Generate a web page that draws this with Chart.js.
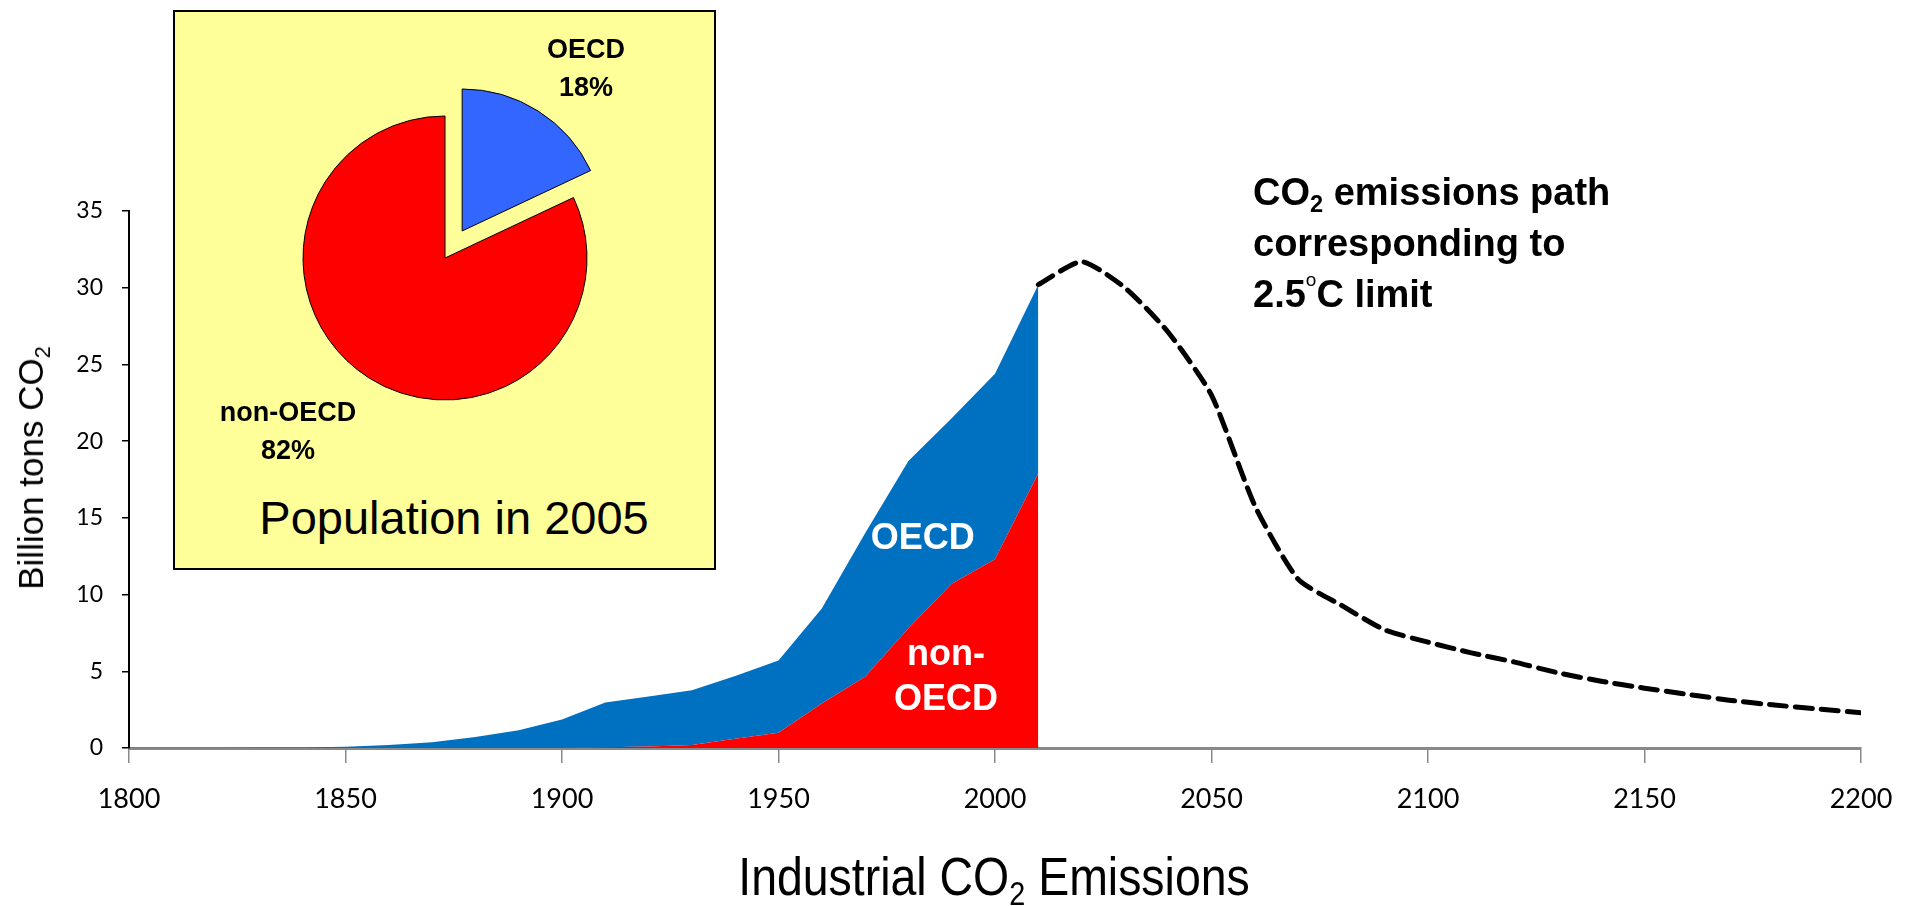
<!DOCTYPE html>
<html>
<head>
<meta charset="utf-8">
<script src="https://cdn.jsdelivr.net/npm/chart.js@4.4.1/dist/chart.umd.min.js"></script>
<style>
  body { margin: 0; background: #fff; }
  #wrap { position: relative; width: 1913px; height: 906px; overflow: hidden; font-family: "Liberation Sans", Arial, sans-serif; }
  #mainChart { position: absolute; left: 0; top: 0; }
  #popBox { position: absolute; left: 173px; top: 10px; width: 539px; height: 556px; background: #ffff99; border: 2px solid #000; }
  #pieChart { position: absolute; left: 275px; top: 88px; }
  .txt { position: absolute; white-space: nowrap; color: #000; }
  sub, sup { font-size: 0.62em; line-height: 0; }
  sub { vertical-align: -0.3em; }
  sup { vertical-align: 1.1em; font-size: 0.5em; font-weight: normal; }
</style>
</head>
<body>
<div id="wrap">
  <canvas id="mainChart" width="1913" height="906"></canvas>
  <div id="popBox"></div>
  <canvas id="pieChart" width="340" height="340"></canvas>

  <div class="txt" style="left:586px; top:30px; transform:translateX(-50%); font-weight:bold; font-size:27px; line-height:38px; text-align:center;">OECD<br>18%</div>
  <div class="txt" style="left:288px; top:393px; transform:translateX(-50%); font-weight:bold; font-size:27px; line-height:38px; text-align:center;">non-OECD<br>82%</div>
  <div class="txt" style="left:454px; top:490px; transform:translateX(-50%); font-size:47px; line-height:56px;">Population in 2005</div>

  <div class="txt" style="left:1253px; top:167px; font-weight:bold; font-size:38px; line-height:51px;">CO<sub>2</sub> emissions path<br>corresponding to<br>2.5<sup>o</sup>C limit</div>

  <div class="txt" style="left:31px; top:468px; transform:translate(-50%,-50%) rotate(-90deg); font-size:35px;">Billion tons CO<sub>2</sub></div>
  <div class="txt" style="left:994px; top:846px; transform:translateX(-50%) scaleX(0.86); font-size:54px; line-height:60px;">Industrial CO<sub>2</sub> Emissions</div>
</div>

<script>
// Historical emissions (billion tons CO2), by decade
const years = [1800, 1810, 1820, 1830, 1840, 1850, 1860, 1870, 1880, 1890, 1900,
  1910, 1920, 1930, 1940, 1950, 1960, 1970, 1980, 1990, 2000, 2010];
const nonOecdEmissions = [0, 0, 0, 0, 0, 0, 0, 0, 0, 0, 0,
  0.05, 0.1, 0.2, 0.6, 1.0, 2.9, 4.65, 7.8, 10.7, 12.3, 17.9];
const oecdEmissions = [0.01, 0.01, 0.02, 0.03, 0.04, 0.08, 0.2, 0.38, 0.72, 1.15, 1.85,
  2.91, 3.25, 3.57, 4.1, 4.7, 6.2, 9.35, 10.9, 10.8, 12.1, 12.3];

// Emissions path for the 2.5 C limit
const pathYears = [2010, 2020, 2030, 2040, 2050, 2060, 2070, 2080, 2090, 2100,
  2110, 2120, 2130, 2140, 2150, 2160, 2170, 2180, 2190, 2200];
const pathEmissions = [30.2, 31.7, 30.0, 27.1, 23.0, 15.8, 11.0, 9.3, 7.7, 6.9,
  6.2, 5.6, 4.9, 4.35, 3.9, 3.5, 3.1, 2.8, 2.55, 2.3];

const xTickValues = [1800, 1850, 1900, 1950, 2000, 2050, 2100, 2150, 2200];
const yTickValues = [0, 5, 10, 15, 20, 25, 30, 35];

// Population share 2005
const popLabels = ['OECD', 'non-OECD'];
const popShares = [18, 82];

// white labels inside the areas, in data coordinates
const areaLabels = [
  { text: 'OECD', year: 1983.3, value: 13.0 },
  { text: 'non-', year: 1988.7, value: 5.4 },
  { text: 'OECD', year: 1988.7, value: 2.5 }
];

function toPoints(xs, ys) {
  return xs.map((x, i) => ({ x: x, y: ys[i] }));
}

const areaLabelPlugin = {
  id: 'areaLabels',
  afterDatasetsDraw(chart) {
    const ctx = chart.ctx;
    const xs = chart.scales.x;
    const ys = chart.scales.y;
    ctx.save();
    ctx.fillStyle = '#fff';
    ctx.font = 'bold 36px "Liberation Sans", Arial, sans-serif';
    ctx.textAlign = 'center';
    ctx.textBaseline = 'alphabetic';
    areaLabels.forEach(l => {
      ctx.fillText(l.text, xs.getPixelForValue(l.year), ys.getPixelForValue(l.value));
    });
    ctx.restore();
  }
};

new Chart(document.getElementById('mainChart'), {
  type: 'line',
  data: {
    datasets: [
      {
        label: 'non-OECD',
        data: toPoints(years, nonOecdEmissions),
        backgroundColor: '#ff0000',
        borderColor: 'rgba(0,0,0,0)',
        borderWidth: 1,
        pointRadius: 0,
        fill: 'origin',
        stack: 'hist'
      },
      {
        label: 'OECD',
        data: toPoints(years, oecdEmissions),
        backgroundColor: '#0070c0',
        borderColor: 'rgba(0,0,0,0)',
        borderWidth: 1,
        pointRadius: 0,
        fill: '-1',
        stack: 'hist'
      },
      {
        label: '2.5C path',
        data: toPoints(pathYears, pathEmissions),
        borderColor: '#000',
        borderWidth: 5,
        borderDash: [17, 9],
        borderCapStyle: 'round',
        pointRadius: 0,
        fill: false,
        tension: 0.2,
        stack: 'path'
      }
    ]
  },
  options: {
    responsive: false,
    animation: false,
    layout: { padding: { top: 211, right: 52, left: 0, bottom: 0 } },
    plugins: { legend: { display: false }, tooltip: { enabled: false } },
    scales: {
      x: {
        type: 'linear',
        min: 1800,
        max: 2200,
        afterBuildTicks: (axis) => { axis.ticks = xTickValues.map(v => ({ value: v })); },
        afterFit: (scale) => { scale.height = 158; },
        grid: { drawOnChartArea: false, drawTicks: true, tickLength: 15, color: '#898989', lineWidth: 1.5 },
        border: { color: '#898989', width: 3 },
        ticks: { color: '#000', padding: 20, font: { family: 'Lato', size: 27 }, maxRotation: 0, callback: v => String(v) }
      },
      y: {
        stacked: true,
        min: 0,
        max: 35,
        afterBuildTicks: (axis) => { axis.ticks = yTickValues.map(v => ({ value: v })); },
        afterFit: (scale) => { scale.width = 129; },
        grid: { drawOnChartArea: false, drawTicks: true, tickLength: 7, color: '#000', lineWidth: 1.5 },
        border: { color: '#000', width: 2 },
        ticks: { color: '#000', padding: 19, font: { family: 'Lato', size: 23 } }
      }
    }
  },
  plugins: [areaLabelPlugin]
});

// pull the OECD slice out from the centre
const explodePlugin = {
  id: 'explode',
  afterDatasetsUpdate(chart) {
    const arc = chart.getDatasetMeta(0).data[0];
    const mid = (arc.startAngle + arc.endAngle) / 2;
    arc.x += Math.cos(mid) * 32;
    arc.y += Math.sin(mid) * 32;
  }
};

new Chart(document.getElementById('pieChart'), {
  type: 'pie',
  data: {
    labels: popLabels,
    datasets: [{
      data: popShares,
      backgroundColor: ['#3366ff', '#ff0000'],
      borderColor: '#000',
      borderWidth: 1,
      radius: 142
    }]
  },
  options: {
    responsive: false,
    animation: false,
    layout: { padding: 0 },
    plugins: { legend: { display: false }, tooltip: { enabled: false } }
  },
  plugins: [explodePlugin]
});
</script>
</body>
</html>
